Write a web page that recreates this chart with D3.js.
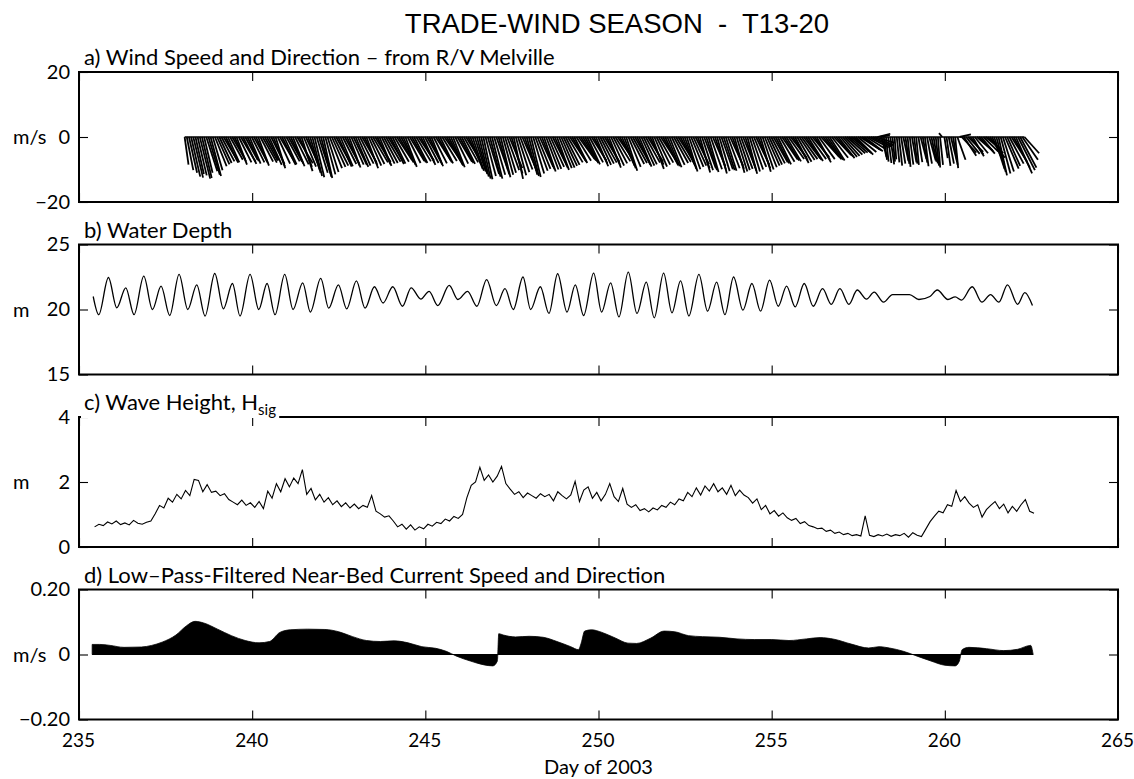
<!DOCTYPE html>
<html>
<head>
<meta charset="utf-8">
<script src="https://cdn.jsdelivr.net/npm/d3@7"></script>
<style>
    body { margin: 0; background: white; }
    svg text { font-family: Lato, "Open Sans", sans-serif; }
</style>
</head>
<body>
<div id="chart"></div>
<script>
/* * * * * * * * * * * * * *
*   data  *
* * * * * * * * * * * * * */
let xTicks = [235, 240, 245, 250, 255, 260, 265]

let panelLabels = ["a) Wind Speed and Direction \u2013 from R/V Melville", "b) Water Depth", "c) Wave Height, H", "d) Low\u2013Pass-Filtered Near-Bed Current Speed and Direction"]
let panelUnits = ["m/s", "m", "m", "m/s"]
let panelDomains = [[-20, 20], [15, 25], [0, 4], [-0.2, 0.2]]
let panelYTicks = [[-20, 0, 20], [15, 20, 25], [0, 2, 4], [-0.2, 0, 0.2]]

// a) wind sticks, every 1.5 h starting day 238.05 (u = lean to the right, v = up/down, m/s)
let windStart = 238.05
let windStep = 0.0625
let windV = [
    -8.5, -10.2, -11.0, -12.2, -12.5, -11.4, -11.8, -12.8, -12.6, -11.0, -10.5, -11.6, -12.0, -10.2, -9.0, -8.4,
    -8.0, -7.5, -7.2, -7.9, -7.8, -7.0, -6.9, -7.6, -8.5, -7.8, -7.6, -8.3, -7.0, -7.4, -8.2, -7.8,
    -7.4, -8.0, -8.8, -7.6, -7.9, -7.3, -7.1, -8.6, -8.3, -9.0, -9.6, -8.2, -7.8, -8.6, -8.4, -7.5,
    -7.6, -8.2, -9.0, -8.4, -8.1, -9.2, -10.5, -9.1, -8.6, -10.0, -11.0, -12.0, -12.4, -11.0, -11.2, -12.2,
    -12.6, -11.5, -10.8, -9.6, -9.2, -8.8, -8.4, -9.1, -9.0, -8.3, -8.1, -8.8, -9.4, -8.5, -8.6, -9.2,
    -8.8, -8.2, -7.9, -8.6, -9.6, -8.8, -8.3, -7.8, -7.7, -8.4, -8.9, -8.2, -8.0, -7.6, -7.5, -8.3,
    -8.2, -7.6, -7.1, -7.8, -7.9, -8.6, -9.2, -8.0, -7.4, -7.8, -8.0, -7.5, -7.2, -7.9, -8.6, -8.0,
    -7.8, -8.5, -9.0, -8.1, -7.3, -7.8, -8.1, -7.4, -7.0, -7.7, -8.4, -8.8, -9.3, -8.2, -7.6, -8.0,
    -8.3, -7.8, -7.5, -8.6, -9.8, -10.4, -10.6, -11.4, -12.2, -12.8, -13.0, -12.0, -11.4, -12.2, -12.8, -11.6,
    -10.2, -11.5, -12.4, -11.6, -11.0, -10.2, -9.6, -11.2, -12.9, -11.8, -10.8, -10.0, -9.4, -10.4, -11.6, -12.0,
    -12.3, -11.2, -10.4, -9.8, -9.2, -9.9, -10.6, -10.0, -9.8, -9.2, -8.8, -9.5, -10.1, -9.6, -9.4, -8.9,
    -8.6, -7.8, -7.2, -7.6, -8.0, -7.3, -6.8, -7.2, -7.5, -8.0, -8.4, -7.8, -7.3, -8.1, -9.0, -8.6,
    -8.2, -7.9, -7.6, -8.5, -9.4, -8.8, -8.1, -7.5, -7.0, -7.9, -8.8, -9.6, -10.4, -9.2, -8.3, -8.0,
    -7.9, -8.6, -9.1, -8.8, -8.4, -7.9, -7.6, -8.5, -9.8, -9.1, -8.5, -7.9, -7.4, -8.0, -8.7, -9.0,
    -9.3, -8.6, -8.0, -7.7, -7.5, -8.2, -8.9, -9.8, -10.6, -9.9, -9.2, -8.8, -8.4, -9.6, -10.9, -10.2,
    -9.6, -10.2, -10.8, -9.9, -9.0, -10.1, -11.2, -10.5, -9.9, -10.2, -10.4, -9.6, -8.8, -9.8, -11.0, -10.6,
    -10.2, -9.8, -9.4, -10.4, -11.3, -10.6, -10.0, -9.2, -8.6, -9.6, -10.7, -10.0, -9.3, -8.8, -8.5, -8.1,
    -7.8, -8.1, -8.4, -7.6, -6.9, -7.2, -7.5, -6.8, -6.4, -7.2, -8.0, -7.6, -7.1, -6.8, -6.6, -7.0,
    -7.4, -6.8, -6.2, -7.0, -7.8, -6.8, -5.9, -6.3, -6.8, -7.0, -7.2, -6.4, -5.6, -6.0, -6.5, -6.1,
    -5.8, -5.4, -5.0, -4.8, -4.6, -5.0, -5.4, -4.6, -3.8, -4.1, -4.4, -3.8, -3.2, -2.9, -2.6, -1.8,
    1.0, 0.6, -6.2, -7.0, -7.6, -8.0, -8.4, -7.6, -6.9, -7.8, -8.8, -8.2, -7.4, -8.3, -9.2, -8.5,
    -7.8, -8.2, -8.6, -7.7, -6.8, -7.9, -9.0, -8.2, -7.2, -7.6, -8.1, -8.8, -9.4, -8.6, 1.2, -6.5,
    -8.9, -8.2, -7.6, -8.6, -9.6, -7.0, 0.8, -4.8, -5.8, -5.2, -4.6, -5.3, -5.9, -5.0, -4.2, -4.6,
    -5.1, -4.5, -3.9, -5.0, -6.4, -8.2, -9.8, -10.8, -11.8, -11.2, -10.6, -9.7, -8.9, -8.2, -7.6, -9.4,
    -11.2, -10.2, -9.4, -7.0, -5.0
]
let windU = [
    1.2, 2.0, 2.5, 2.8, 3.0, 2.6, 2.8, 3.2, 3.0, 2.6, 3.4, 3.5, 3.2, 3.0, 3.6, 3.8,
    3.8, 4.0, 4.2, 3.8, 3.5, 3.9, 4.0, 3.6, 3.2, 3.9, 4.5, 4.1, 3.8, 3.5, 3.4, 3.9,
    4.0, 3.6, 3.3, 3.9, 4.4, 4.0, 3.7, 3.9, 4.1, 3.5, 3.0, 3.8, 4.6, 4.2, 3.8, 4.1,
    4.2, 3.9, 3.6, 4.2, 4.8, 3.9, 3.4, 3.8, 4.0, 3.6, 3.2, 3.0, 3.0, 3.4, 3.6, 3.2,
    2.8, 3.1, 3.4, 3.8, 4.2, 4.4, 4.6, 4.1, 3.8, 4.2, 4.4, 3.9, 3.5, 3.8, 4.1, 3.9,
    3.9, 4.2, 4.5, 4.0, 3.6, 3.9, 4.2, 4.6, 4.8, 4.1, 3.7, 4.0, 4.3, 4.5, 4.6, 4.2,
    4.0, 4.4, 4.7, 4.5, 4.2, 3.8, 3.5, 4.0, 4.5, 4.3, 4.1, 4.5, 4.8, 4.3, 3.9, 4.2,
    4.4, 4.0, 3.6, 4.1, 4.7, 4.3, 4.0, 4.5, 4.9, 4.5, 4.2, 3.8, 3.6, 4.0, 4.5, 4.3,
    4.1, 4.4, 4.6, 4.1, 3.8, 3.5, 3.4, 3.2, 3.0, 2.9, 2.8, 3.2, 3.5, 3.3, 3.2, 3.4,
    3.6, 3.3, 3.0, 3.2, 3.4, 3.7, 4.0, 3.4, 2.9, 3.2, 3.5, 3.8, 4.1, 3.7, 3.3, 3.1,
    3.0, 3.4, 3.8, 4.0, 4.2, 3.9, 3.6, 3.8, 4.0, 4.2, 4.4, 4.0, 3.7, 3.9, 4.1, 4.2,
    4.3, 4.6, 4.8, 4.4, 4.0, 4.5, 5.0, 4.7, 4.4, 4.1, 3.9, 4.2, 4.6, 4.2, 3.8, 4.0,
    4.2, 4.4, 4.6, 4.1, 3.7, 4.0, 4.3, 4.6, 4.9, 4.4, 3.9, 3.6, 3.4, 3.8, 4.2, 4.4,
    4.5, 4.1, 3.8, 4.0, 4.1, 4.4, 4.7, 4.2, 3.6, 3.9, 4.2, 4.5, 4.8, 4.4, 4.0, 3.8,
    3.7, 4.0, 4.4, 4.6, 4.8, 4.3, 3.9, 3.6, 3.3, 3.5, 3.8, 4.0, 4.2, 3.7, 3.2, 3.4,
    3.6, 3.3, 3.1, 3.5, 3.9, 3.4, 3.0, 3.2, 3.5, 3.4, 3.3, 3.6, 4.0, 3.6, 3.1, 3.3,
    3.4, 3.6, 3.8, 3.4, 3.0, 3.2, 3.5, 3.8, 4.1, 3.7, 3.2, 3.4, 3.7, 3.9, 4.0, 4.2,
    4.4, 4.2, 4.1, 4.5, 4.8, 4.6, 4.5, 4.8, 5.0, 4.6, 4.2, 4.4, 4.7, 4.9, 5.1, 4.8,
    4.6, 4.9, 5.2, 4.8, 4.4, 4.9, 5.4, 5.1, 4.9, 4.7, 4.6, 5.0, 5.3, 5.2, 5.0, 5.1,
    5.2, 5.4, 5.6, 5.7, 5.8, 5.6, 5.4, 5.7, 6.0, 5.8, 5.7, 6.0, 6.2, 6.3, 6.4, 6.0,
    4.0, 3.2, 1.5, 1.0, 0.8, 1.0, 1.2, 0.8, 0.5, 0.8, 1.0, 1.3, 1.6, 1.2, 0.9, 1.1,
    1.4, 1.0, 0.8, 1.2, 1.8, 1.4, 1.1, 1.5, 2.0, 1.6, 1.3, 1.0, 0.7, 0.9, -1.0, 1.0,
    1.2, 1.6, 1.9, 1.4, 0.9, 2.5, 3.5, 4.5, 3.8, 4.2, 4.6, 4.0, 3.5, 4.1, 4.8, 4.5,
    4.2, 4.6, 5.0, 4.8, 4.6, 3.8, 3.2, 2.9, 2.6, 3.0, 3.4, 4.2, 4.0, 4.4, 4.8, 5.0,
    5.0, 5.2, 5.0, 4.8, 4.5
]

// b) water depth, highs and lows of the tide (day, m)
let depthDay = [
    235.41, 235.57, 235.85, 236.09, 236.35, 236.59, 236.87, 237.12, 237.37, 237.62,
    237.89, 238.14, 238.40, 238.64, 238.92, 239.17, 239.43, 239.65, 239.94, 240.19,
    240.43, 240.66, 240.94, 241.18, 241.46, 241.68, 241.98, 242.21, 242.49, 242.73,
    243.01, 243.26, 243.53, 243.78, 244.06, 244.34, 244.59, 244.87, 245.11, 245.36,
    245.69, 245.94, 246.22, 246.49, 246.77, 247.05, 247.30, 247.54, 247.82, 248.04,
    248.32, 248.57, 248.82, 249.09, 249.33, 249.57, 249.86, 250.09, 250.35, 250.59,
    250.86, 251.11, 251.38, 251.61, 251.88, 252.12, 252.37, 252.61, 252.90, 253.15,
    253.41, 253.65, 253.90, 254.17, 254.43, 254.68, 254.94, 255.19, 255.43, 255.68,
    255.94, 256.20, 256.47, 256.72, 256.97, 257.23, 257.47, 257.74, 257.96, 258.23,
    258.49, 258.98, 259.25, 259.57, 259.78, 260.09, 260.30, 260.48, 260.79, 261.07,
    261.32, 261.56, 261.81, 262.10, 262.31, 262.53
]
let depthVal = [
    21.0, 19.6, 22.46, 20.13, 21.67, 19.6, 22.56, 20.0, 21.8, 19.54,
    22.7, 20.0, 21.9, 19.5, 22.77, 20.05, 22.0, 19.5, 22.7, 20.0,
    22.0, 19.6, 22.7, 20.0, 22.05, 19.8, 22.4, 20.1, 21.9, 20.05,
    22.2, 20.1, 21.75, 20.5, 21.75, 20.25, 21.67, 20.8, 21.4, 20.3,
    21.85, 20.77, 21.4, 20.25, 22.3, 20.3, 21.6, 20.0, 22.5, 20.0,
    21.75, 19.7, 22.75, 19.8, 21.9, 19.54, 22.8, 19.8, 22.05, 19.43,
    22.87, 19.7, 22.1, 19.36, 22.8, 19.75, 22.2, 19.5, 22.7, 19.87,
    22.1, 19.6, 22.5, 19.95, 22.0, 19.87, 22.26, 20.25, 21.8, 20.2,
    22.0, 20.25, 21.6, 20.4, 21.6, 20.4, 21.5, 20.8, 21.33, 20.56,
    21.15, 21.15, 20.77, 21.0, 21.5, 20.77, 20.97, 20.72, 21.75, 20.56,
    21.15, 20.56, 21.9, 20.4, 21.3, 20.3
]

// c) significant wave height, every 3 h starting day 235.45 (m)
let waveStart = 235.45
let waveStep = 0.125
let waveH = [
    0.62, 0.70, 0.66, 0.77, 0.71, 0.80, 0.69, 0.74,
    0.68, 0.82, 0.73, 0.70, 0.76, 0.80, 1.02, 1.28,
    1.20, 1.50, 1.38, 1.62, 1.48, 1.74, 1.58, 2.08,
    2.05, 1.70, 1.92, 1.68, 1.72, 1.58, 1.64, 1.46,
    1.38, 1.30, 1.44, 1.28, 1.36, 1.22, 1.40, 1.18,
    1.72, 1.50, 1.95, 1.70, 2.10, 1.85, 2.12, 1.95,
    2.38, 1.62, 1.80, 1.45, 1.62, 1.38, 1.52, 1.30,
    1.42, 1.24, 1.36, 1.20, 1.32, 1.18, 1.28, 1.22,
    1.58, 1.10, 1.02, 0.92, 0.96, 0.80, 0.62, 0.70,
    0.55, 0.68, 0.52, 0.62, 0.56, 0.70, 0.64, 0.76,
    0.72, 0.86, 0.80, 0.94, 0.88, 1.00, 1.52, 1.90,
    2.00, 2.45, 2.05, 2.22, 2.00, 2.18, 2.48, 1.95,
    1.78, 1.62, 1.70, 1.52, 1.66, 1.58, 1.50, 1.64,
    1.55, 1.62, 1.42, 1.70, 1.58, 1.48, 1.60, 2.02,
    1.40, 1.75, 1.85, 1.50, 1.68, 1.42, 1.62, 1.95,
    1.55, 1.40, 1.80, 1.32, 1.22, 1.30, 1.12, 1.18,
    1.08, 1.20, 1.14, 1.28, 1.22, 1.38, 1.30, 1.48,
    1.42, 1.68, 1.55, 1.82, 1.60, 1.88, 1.72, 1.95,
    1.70, 1.82, 1.62, 1.90, 1.58, 1.75, 1.60, 1.52,
    1.35, 1.48, 1.15, 1.28, 1.02, 1.12, 0.95, 1.05,
    0.90, 0.82, 0.88, 0.72, 0.78, 0.66, 0.62, 0.56,
    0.58, 0.48, 0.52, 0.42, 0.46, 0.38, 0.42, 0.35,
    0.38, 0.34, 0.96, 0.36, 0.32, 0.38, 0.34, 0.40,
    0.33, 0.38, 0.35, 0.42, 0.30, 0.44, 0.36, 0.32,
    0.55, 0.78, 0.95, 1.10, 1.05, 1.30, 1.25, 1.74,
    1.40, 1.55, 1.35, 1.22, 1.30, 0.92, 1.15, 1.28,
    1.40, 1.18, 1.32, 1.05, 1.25, 1.10, 1.30, 1.46,
    1.10, 1.04
]

// d) low-pass near-bed current, outline of the stick envelope (day, m/s)
let currentDay = [
    235.38, 235.6, 235.9, 236.3, 236.8, 237.1, 237.4, 237.8, 238.1, 238.35,
    238.6, 239.0, 239.4, 239.8, 240.2, 240.5, 240.8, 241.1, 241.6, 242.1,
    242.5, 242.9, 243.3, 243.7, 244.1, 244.5, 244.9, 245.3, 245.6, 245.9,
    246.3, 246.7, 246.95, 247.08, 247.12, 247.25, 247.6, 248.0, 248.4, 248.8,
    249.2, 249.42, 249.5, 249.6, 249.8, 250.1, 250.5, 250.85, 251.1, 251.5,
    251.9, 252.2, 252.6, 253.0, 253.5, 254.0, 254.5, 255.0, 255.5, 256.0,
    256.4, 256.8, 257.3, 257.8, 258.1, 258.4, 258.8, 259.2, 259.6, 260.0,
    260.3, 260.42, 260.5, 260.7, 261.2, 261.7, 262.1, 262.48, 262.55
]
let currentV = [
    0.031, 0.031, 0.028, 0.022, 0.023, 0.028, 0.038, 0.060, 0.088, 0.102,
    0.097, 0.078, 0.058, 0.043, 0.036, 0.040, 0.068, 0.076, 0.078, 0.077,
    0.070, 0.055, 0.043, 0.040, 0.042, 0.036, 0.024, 0.019, 0.010, -0.005,
    -0.020, -0.032, -0.035, -0.020, 0.064, 0.060, 0.054, 0.056, 0.053, 0.040,
    0.024, 0.015, 0.035, 0.072, 0.076, 0.068, 0.050, 0.035, 0.034, 0.050,
    0.072, 0.070, 0.058, 0.055, 0.053, 0.048, 0.046, 0.046, 0.043, 0.048,
    0.052, 0.047, 0.032, 0.020, 0.024, 0.020, 0.010, -0.005, -0.020, -0.033,
    -0.035, -0.020, 0.015, 0.022, 0.018, 0.012, 0.016, 0.028, 0.000
]

/* * * * * * * * * * * * * *
*       class Panel         *
* * * * * * * * * * * * * */
class Panel {
    constructor(svg, x, index, top, height) {
        this.svg = svg
        this.x = x
        this.index = index
        this.top = top
        this.height = height

        this.initVis()
    }

    initVis() {
        let vis = this
        let i = vis.index
        let [left, right] = vis.x.range()

        vis.g = vis.svg.append("g").attr("transform", `translate(0, ${vis.top})`)
        vis.y = d3.scaleLinear().domain(panelDomains[i]).range([vis.height, 0])

        let yFormat = i === 3 ? (d => d === 0 ? "0" : d3.format(".2f")(d)) : d3.format("d")

        // inward ticks on all four sides, labels only where the original has them
        vis.g.append("g").attr("class", "axis x-bottom")
            .attr("transform", `translate(0, ${vis.height})`)
            .call(d3.axisBottom(vis.x).tickValues(xTicks).tickSize(-9).tickPadding(14)
                .tickFormat(i === 3 ? d3.format("d") : ""))
        vis.g.append("g").attr("class", "axis")
            .call(d3.axisTop(vis.x).tickValues(xTicks).tickSize(-9).tickFormat(""))
        vis.g.append("g").attr("class", "axis")
            .attr("transform", `translate(${left}, 0)`)
            .call(d3.axisLeft(vis.y).tickValues(panelYTicks[i]).tickSize(-9).tickPadding(9).tickFormat(yFormat))
        vis.g.append("g").attr("class", "axis")
            .attr("transform", `translate(${right}, 0)`)
            .call(d3.axisRight(vis.y).tickValues(panelYTicks[i]).tickSize(-9).tickFormat(""))

        vis.g.selectAll(".axis .domain").remove()
        vis.g.selectAll(".axis line").attr("stroke", "black").attr("stroke-width", 1.1)
        vis.g.selectAll(".axis text")
            .attr("font-family", "Lato, 'Open Sans', sans-serif")
            .attr("font-size", 20)
            .attr("fill", "black")
        vis.g.selectAll(".x-bottom text")
            .attr("font-size", 19)
            .attr("dx", -1)

        // frame
        vis.g.append("rect")
            .attr("x", left).attr("y", 0)
            .attr("width", right - left).attr("height", vis.height)
            .attr("fill", "none").attr("stroke", "black").attr("stroke-width", 2)

        // unit next to the middle tick
        let mid = panelYTicks[i][1]
        vis.g.append("text")
            .attr("x", 13).attr("y", vis.y(mid)).attr("dy", "0.35em")
            .attr("font-size", 20)
            .text(panelUnits[i])

        vis.marks = vis.g.append("g")
    }

    addLabel() {
        let vis = this
        let label = vis.g.append("g")
        let bg = label.append("rect").attr("fill", "white")
        let t = label.append("text")
            .attr("x", vis.x.range()[0] + 5).attr("y", -7)
            .attr("font-size", 22)
            .text(panelLabels[vis.index])
        if (vis.index === 2) {
            t.append("tspan").attr("dy", 5).attr("font-size", 15).text("sig")
        }
        let box = t.node().getBBox()
        bg.attr("x", box.x - 3).attr("y", box.y).attr("width", box.width + 6).attr("height", box.height)
    }
}

/* * * * * * * * * * * * * *
*          drawing          *
* * * * * * * * * * * * * */
let width = 1134, height = 779
let svg = d3.select("#chart").append("svg")
    .attr("width", width)
    .attr("height", height)

let x = d3.scaleLinear().domain([235, 265]).range([79, 1118])
let panelTops = [72, 244.5, 417, 589.5]
let panels = panelTops.map((top, i) => new Panel(svg, x, i, top, 130))

// title
svg.append("text")
    .attr("x", 617).attr("y", 33)
    .attr("text-anchor", "middle")
    .style("font-family", "'Liberation Sans', Arial, sans-serif")
    .style("font-size", "27.5px")
    .style("white-space", "pre")
    .text("TRADE-WIND SEASON  -  T13-20")

// a) wind sticks
let pa = panels[0]
let windDay = windV.map((d, i) => windStart + i * windStep)
pa.marks.append("line")
    .attr("x1", x(windDay[0])).attr("x2", x(windDay[windDay.length - 1]))
    .attr("y1", pa.y(0)).attr("y2", pa.y(0))
    .attr("stroke", "black").attr("stroke-width", 1.4)
pa.marks.selectAll(".stick")
    .data(windV)
    .join("line")
    .attr("class", "stick")
    .attr("x1", (d, i) => x(windDay[i]))
    .attr("y1", pa.y(0))
    .attr("x2", (d, i) => x(windDay[i]) + (pa.y(0) - pa.y(windU[i])))
    .attr("y2", d => pa.y(d))
    .attr("stroke", "black")
    .attr("stroke-width", 1.8)

// b) water depth
let pb = panels[1]
pb.marks.append("path")
    .datum(depthDay.map((d, i) => [d, depthVal[i]]))
    .attr("fill", "none").attr("stroke", "black").attr("stroke-width", 1.3)
    .attr("d", d3.line().x(d => x(d[0])).y(d => pb.y(d[1])).curve(d3.curveMonotoneX))

// c) wave height
let pc = panels[2]
pc.marks.append("path")
    .datum(waveH.map((d, i) => [waveStart + i * waveStep, d]))
    .attr("fill", "none").attr("stroke", "black").attr("stroke-width", 1.1)
    .attr("d", d3.line().x(d => x(d[0])).y(d => pc.y(d[1])))

// d) near-bed current
let pd = panels[3]
pd.marks.append("path")
    .datum(currentDay.map((d, i) => [d, currentV[i]]))
    .attr("fill", "black").attr("stroke", "black").attr("stroke-width", 0.8)
    .attr("d", d3.area().x(d => x(d[0])).y0(pd.y(0)).y1(d => pd.y(d[1])).curve(d3.curveMonotoneX))
pd.marks.append("line")
    .attr("x1", x(currentDay[0])).attr("x2", x(currentDay[currentDay.length - 1]))
    .attr("y1", pd.y(0)).attr("y2", pd.y(0))
    .attr("stroke", "black").attr("stroke-width", 1.2)

panels.forEach(p => p.addLabel())

// x axis title
svg.append("text")
    .attr("x", (x.range()[0] + x.range()[1]) / 2).attr("y", 774)
    .attr("text-anchor", "middle")
    .attr("font-size", 20)
    .text("Day of 2003")
</script>
</body>
</html>
